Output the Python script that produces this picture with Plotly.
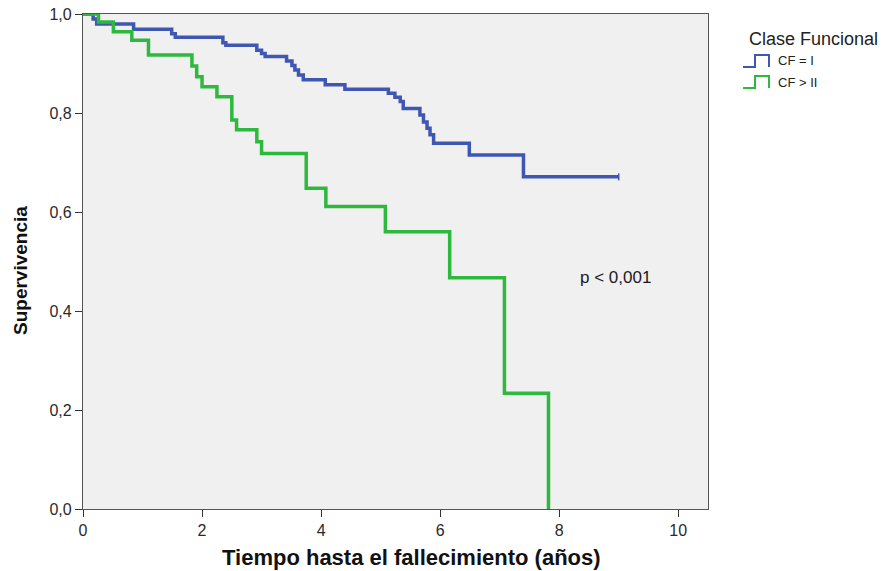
import plotly.graph_objects as go

# Kaplan-Meier step data (time in years, survival)
t_cf1 = [0, 0.17, 0.23, 0.85, 1.49, 1.55, 2.35, 2.40, 2.92, 3.00, 3.06, 3.42, 3.51, 3.56, 3.62, 3.70,
         4.07, 4.40, 5.13, 5.24, 5.33, 5.38, 5.66, 5.72, 5.78, 5.83, 5.89, 6.49, 7.40, 9.00]
s_cf1 = [1.0, 0.99, 0.98, 0.969, 0.96, 0.953, 0.942, 0.937, 0.927, 0.92, 0.914, 0.905, 0.896, 0.887, 0.877, 0.867,
         0.857, 0.848, 0.840, 0.832, 0.823, 0.809, 0.796, 0.782, 0.769, 0.756, 0.739, 0.715, 0.671, 0.671]

t_cf2 = [0, 0.26, 0.51, 0.82, 1.10, 1.83, 1.91, 2.00, 2.25, 2.50, 2.58, 2.92, 3.00, 3.75, 4.08,
         5.08, 6.16, 7.08, 7.82]
s_cf2 = [1.0, 0.984, 0.964, 0.947, 0.917, 0.895, 0.873, 0.853, 0.833, 0.786, 0.766, 0.742, 0.718, 0.648, 0.611,
         0.560, 0.467, 0.234, 0.0]

series_names = ["CF = I", "CF > II"]
colors = ["#3F56B2", "#2EB93E"]
x_ticks = [0, 2, 4, 6, 8, 10]
y_ticks = [0, 0.2, 0.4, 0.6, 0.8, 1.0]
y_tick_labels = ["0,0", "0,2", "0,4", "0,6", "0,8", "1,0"]

fig = go.Figure()
for t, s, name, col in [(t_cf1, s_cf1, series_names[0], colors[0]),
                        (t_cf2, s_cf2, series_names[1], colors[1])]:
    fig.add_trace(go.Scatter(x=t, y=s, mode="lines", line=dict(shape="hv", color=col, width=3.5),
                             name=name, showlegend=False))

# censor tick at end of CF = I
fig.add_trace(go.Scatter(x=[t_cf1[-1]], y=[s_cf1[-1]], mode="markers",
                         marker=dict(symbol="line-ns", size=5, line=dict(color=colors[0], width=1.5)),
                         showlegend=False, hoverinfo="skip"))

axis_common = dict(showline=True, linecolor="#555555", linewidth=1.2, mirror=True,
                   ticks="outside", ticklen=7, tickcolor="#333333", tickwidth=1.2,
                   showgrid=False, zeroline=False, automargin=False,
                   ticklabeloverflow="allow",
                   tickfont=dict(family="Liberation Sans, Arial", size=16, color="#2a2a2a"))

# plot area at px x 83-708, y 14-509 (body margin removed via post_script)
fig.update_layout(
    width=894, height=571,
    margin=dict(l=83, r=186, t=14, b=62),
    paper_bgcolor="white", plot_bgcolor="#F0F0F0",
    xaxis=dict(range=[0, 10.5], tickvals=x_ticks, ticktext=[str(v) for v in x_ticks], **axis_common),
    yaxis=dict(range=[0, 1.0], tickvals=y_ticks, ticktext=y_tick_labels, **axis_common),
    showlegend=False,
)

fig.add_annotation(x=8.95, y=0.467, xref="x", yref="y", text="p < 0,001", showarrow=False,
                   font=dict(family="Liberation Sans, Arial", size=17, color="#1a1a1a"))

# helpers converting pixel positions to paper coords
def px2paper_x(px):
    return (px - 83) / (708 - 83)

def px2paper_y(py):
    return (509 - py) / (509 - 14)

# axis titles
fig.add_annotation(x=px2paper_x(411), y=px2paper_y(557), xref="paper", yref="paper",
                   text="<b>Tiempo hasta el fallecimiento (años)</b>", showarrow=False,
                   xanchor="center", yanchor="middle",
                   font=dict(family="Liberation Sans, Arial", size=22, color="#111111"))
fig.add_annotation(x=px2paper_x(20), y=px2paper_y(271), xref="paper", yref="paper",
                   text="<b>Supervivencia</b>", showarrow=False, textangle=-90,
                   xanchor="center", yanchor="middle",
                   font=dict(family="Liberation Sans, Arial", size=19, color="#111111"))

# custom legend with step icons
fig.add_annotation(x=px2paper_x(747), y=px2paper_y(39), xref="paper", yref="paper",
                   text="Clase Funcional", showarrow=False, xanchor="left", yanchor="middle",
                   font=dict(family="Liberation Sans, Arial", size=18, color="#222222"))
for i, (name, col) in enumerate(zip(series_names, colors)):
    yc = 61 + i * 21
    x0, x1, x2 = 743, 755, 769
    ylo, yhi = yc + 6, yc - 6
    path = (f"M {px2paper_x(x0)},{px2paper_y(ylo)} L {px2paper_x(x1)},{px2paper_y(ylo)} "
            f"L {px2paper_x(x1)},{px2paper_y(yhi)} L {px2paper_x(x2)},{px2paper_y(yhi)} "
            f"L {px2paper_x(x2)},{px2paper_y(ylo)}")
    fig.add_shape(type="path", path=path, xref="paper", yref="paper",
                  line=dict(color=col, width=2))
    fig.add_annotation(x=px2paper_x(776), y=px2paper_y(yc), xref="paper", yref="paper",
                       text=name, showarrow=False, xanchor="left", yanchor="middle",
                       font=dict(family="Liberation Sans, Arial", size=13, color="#222222"))

fig.write_html("out.html", config={"displayModeBar": False},
               post_script="document.body.style.margin='0';")
